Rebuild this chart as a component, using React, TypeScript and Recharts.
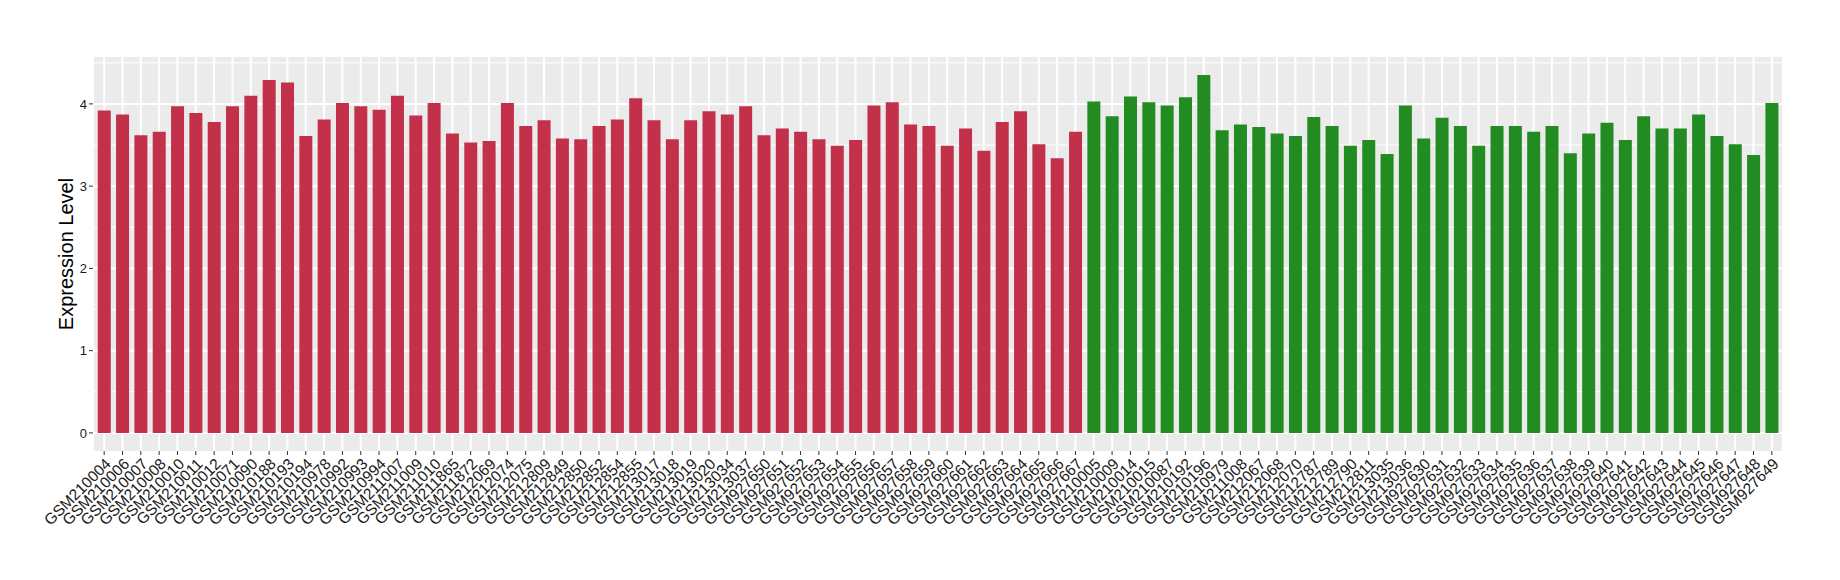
import { BarChart, Bar, XAxis, YAxis, CartesianGrid, Cell } from 'recharts';

const redSamples = [
  'GSM210004', 'GSM210006', 'GSM210007', 'GSM210008', 'GSM210010', 'GSM210011', 'GSM210012', 'GSM210071',
  'GSM210090', 'GSM210188', 'GSM210193', 'GSM210194', 'GSM210978', 'GSM210992', 'GSM210993', 'GSM210994',
  'GSM211007', 'GSM211009', 'GSM211010', 'GSM211865', 'GSM211872', 'GSM212069', 'GSM212074', 'GSM212075',
  'GSM212809', 'GSM212849', 'GSM212850', 'GSM212852', 'GSM212854', 'GSM212855', 'GSM213017', 'GSM213018',
  'GSM213019', 'GSM213020', 'GSM213034', 'GSM213037', 'GSM927650', 'GSM927651', 'GSM927652', 'GSM927653',
  'GSM927654', 'GSM927655', 'GSM927656', 'GSM927657', 'GSM927658', 'GSM927659', 'GSM927660', 'GSM927661',
  'GSM927662', 'GSM927663', 'GSM927664', 'GSM927665', 'GSM927666', 'GSM927667',
];

const redValues = [
  3.92, 3.87, 3.62, 3.66, 3.97, 3.89, 3.78, 3.97, 4.10, 4.29, 4.26, 3.61, 3.81, 4.01,
  3.97, 3.93, 4.10, 3.86, 4.01, 3.64, 3.53, 3.55, 4.01, 3.73, 3.80, 3.58, 3.57, 3.73,
  3.81, 4.07, 3.80, 3.57, 3.80, 3.91, 3.87, 3.97, 3.62, 3.70, 3.66, 3.57, 3.49, 3.56,
  3.98, 4.02, 3.75, 3.73, 3.49, 3.70, 3.43, 3.78, 3.91, 3.51, 3.34, 3.66,
];

const greenSamples = [
  'GSM210005', 'GSM210009', 'GSM210014', 'GSM210015', 'GSM210087', 'GSM210192', 'GSM210196', 'GSM210979',
  'GSM211008', 'GSM212067', 'GSM212068', 'GSM212070', 'GSM212787', 'GSM212789', 'GSM212790', 'GSM212811',
  'GSM213035', 'GSM213036', 'GSM927630', 'GSM927631', 'GSM927632', 'GSM927633', 'GSM927634', 'GSM927635',
  'GSM927636', 'GSM927637', 'GSM927638', 'GSM927639', 'GSM927640', 'GSM927641', 'GSM927642', 'GSM927643',
  'GSM927644', 'GSM927645', 'GSM927646', 'GSM927647', 'GSM927648', 'GSM927649',
];

const greenValues = [
  4.03, 3.85, 4.09, 4.02, 3.98, 4.08, 4.35, 3.68, 3.75, 3.72, 3.64, 3.61, 3.84, 3.73,
  3.49, 3.56, 3.39, 3.98, 3.58, 3.83, 3.73, 3.49, 3.73, 3.73, 3.66, 3.73, 3.40, 3.64,
  3.77, 3.56, 3.85, 3.70, 3.70, 3.87, 3.61, 3.51, 3.38, 4.01,
];

const yTicks = [0, 1, 2, 3, 4];
const yMinorLines = [0.5, 1.5, 2.5, 3.5, 4.5];

const RED = '#C3304A';
const GREEN = '#228B22';
const FONT = '"Liberation Sans", Arial, Helvetica, sans-serif';

const data = [
  ...redSamples.map((name, i) => ({ name, value: redValues[i], color: RED })),
  ...greenSamples.map((name, i) => ({ name, value: greenValues[i], color: GREEN })),
];

const AngledTick = ({ x, y, payload }: any) => (
  <g transform={`translate(${x},${y})`}>
    <text
      x={0}
      y={0}
      dy={11}
      textAnchor="end"
      transform="rotate(-45)"
      fontSize={15.5}
      fontFamily={FONT}
      fill="#1A1A1A"
    >
      {payload.value}
    </text>
  </g>
);

const YTitle = ({ viewBox }: any) => {
  const cy = viewBox.y + viewBox.height / 2;
  return (
    <text
      x={66}
      y={cy}
      transform={`rotate(-90, 66, ${cy})`}
      textAnchor="middle"
      dominantBaseline="central"
      fontSize={20}
      fontFamily={FONT}
      fill="#000"
    >
      Expression Level
    </text>
  );
};

export default function App() {
  return (
    <div style={{ position: 'absolute', left: 0, top: 0, width: 1840, height: 580, background: '#fff' }}>
      <BarChart
        width={1840}
        height={580}
        data={data}
        margin={{ top: 57, right: 57, bottom: 9, left: 0 }}
        barCategoryGap="15%"
      >
        <CartesianGrid
          fill="#EBEBEB"
          stroke="#FFFFFF"
          strokeWidth={1}
          horizontalValues={yMinorLines}
          vertical={false}
        />
        <CartesianGrid stroke="#FFFFFF" strokeWidth={2} horizontalValues={yTicks} />
        <XAxis
          dataKey="name"
          interval={0}
          height={120}
          axisLine={false}
          tickLine={{ stroke: '#333333' }}
          tickSize={4}
          tickMargin={2}
          padding={{ left: 2, right: 2 }}
          tick={<AngledTick />}
        />
        <YAxis
          type="number"
          width={93}
          domain={[-0.22, 4.57]}
          ticks={yTicks}
          allowDataOverflow
          axisLine={false}
          tickLine={{ stroke: '#333333' }}
          tickSize={4}
          tickMargin={2}
          tick={{ fontSize: 13, fontFamily: FONT, fill: '#1A1A1A' }}
          label={<YTitle />}
        />
        <Bar dataKey="value" isAnimationActive={false}>
          {data.map((d) => (
            <Cell key={d.name} fill={d.color} />
          ))}
        </Bar>
      </BarChart>
    </div>
  );
}
